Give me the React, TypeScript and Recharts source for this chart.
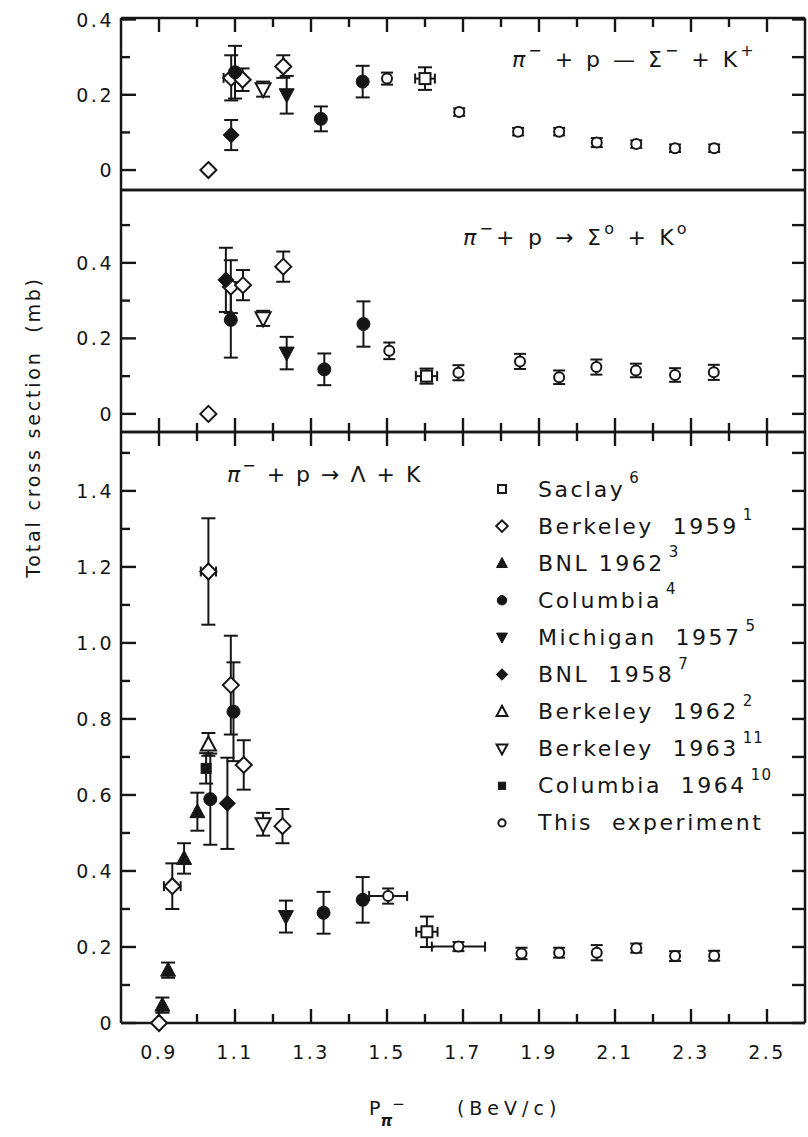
import React from 'react';
import { ScatterChart, Scatter, XAxis, YAxis, ErrorBar, Legend, ReferenceLine } from 'recharts';

// each row: [p (BeV/c), sigma (mb), d sigma, d p]
type Row = number[];

const X_TICKS = [0.9, 1.0, 1.1, 1.2, 1.3, 1.4, 1.5, 1.6, 1.7, 1.8, 1.9, 2.0, 2.1, 2.2, 2.3, 2.4, 2.5];
const TOP_TICKS = [0, 0.1, 0.2, 0.3, 0.4];
const MID_TICKS = [0, 0.1, 0.2, 0.3, 0.4, 0.5];
const LOW_TICKS = [0, 0.1, 0.2, 0.3, 0.4, 0.5, 0.6, 0.7, 0.8, 0.9, 1.0, 1.1, 1.2, 1.3, 1.4, 1.5];

// pi- p -> Sigma- K+
const SM_SACLAY: Row[] = [[1.6, 0.243, 0.03, 0.026]];
const SM_BERK59: Row[] = [[1.03, 0, 0], [1.09, 0.245, 0.06, 0.02], [1.12, 0.24, 0.03], [1.227, 0.275, 0.03]];
const SM_COLUMBIA: Row[] = [[1.1, 0.26, 0.07], [1.326, 0.136, 0.033], [1.436, 0.235, 0.042]];
const SM_MICHIGAN: Row[] = [[1.236, 0.2, 0.05]];
const SM_BNL58: Row[] = [[1.09, 0.093, 0.04]];
const SM_BERK63: Row[] = [[1.174, 0.215, 0.02]];
const SM_OURS: Row[] = [
  [1.5, 0.243, 0.016], [1.69, 0.154, 0.01], [1.845, 0.102, 0.01], [1.953, 0.102, 0.01],
  [2.052, 0.073, 0.012], [2.156, 0.069, 0.01], [2.258, 0.058, 0.01], [2.361, 0.058, 0.01],
];

// pi- p -> Sigma0 K0
const S0_SACLAY: Row[] = [[1.604, 0.1, 0.02, 0.028]];
const S0_BERK59: Row[] = [[1.03, 0, 0], [1.089, 0.337, 0.07], [1.121, 0.341, 0.04], [1.227, 0.39, 0.04]];
const S0_COLUMBIA: Row[] = [[1.089, 0.249, 0.1], [1.335, 0.118, 0.042], [1.438, 0.238, 0.06]];
const S0_MICHIGAN: Row[] = [[1.236, 0.161, 0.043]];
const S0_BNL58: Row[] = [[1.076, 0.355, 0.085]];
const S0_BERK63: Row[] = [[1.174, 0.253, 0.02]];
const S0_OURS: Row[] = [
  [1.506, 0.167, 0.022], [1.688, 0.109, 0.02], [1.85, 0.139, 0.02], [1.953, 0.097, 0.018],
  [2.051, 0.124, 0.02], [2.155, 0.115, 0.018], [2.258, 0.103, 0.018], [2.36, 0.11, 0.02],
];

// pi- p -> Lambda K
const LK_SACLAY: Row[] = [[1.605, 0.24, 0.04, 0.028]];
const LK_BERK59: Row[] = [
  [0.9, 0, 0], [0.935, 0.36, 0.06, 0.022], [1.03, 1.188, 0.14, 0.02],
  [1.089, 0.889, 0.13], [1.123, 0.679, 0.065], [1.225, 0.518, 0.045],
];
const LK_BNL62: Row[] = [[0.909, 0.047, 0.02], [0.924, 0.139, 0.02], [0.966, 0.433, 0.04], [1.001, 0.556, 0.05]];
const LK_COLUMBIA: Row[] = [[1.035, 0.589, 0.12], [1.096, 0.819, 0.13], [1.333, 0.29, 0.055], [1.436, 0.324, 0.06]];
const LK_MICHIGAN: Row[] = [[1.234, 0.28, 0.042]];
const LK_BNL58: Row[] = [[1.08, 0.578, 0.12]];
const LK_BERK62: Row[] = [[1.03, 0.733, 0.03]];
const LK_BERK63: Row[] = [[1.174, 0.523, 0.03]];
const LK_COL64: Row[] = [[1.024, 0.67, 0.04]];
const LK_OURS: Row[] = [
  [1.503, 0.334, 0.02, 0.05], [1.688, 0.201, 0.012, 0.07], [1.854, 0.183, 0.015], [1.953, 0.185, 0.013],
  [2.052, 0.185, 0.02], [2.156, 0.197, 0.012], [2.258, 0.176, 0.013], [2.361, 0.177, 0.013],
];

type Kind = 'sqOpen' | 'diaOpen' | 'triFill' | 'dotFill' | 'triDownFill' | 'diaFill' | 'triOpen' | 'triDownOpen' | 'sqFill' | 'dotOpen';

const SERIES: { key: string; name: string; sup: string; kind: Kind }[] = [
  { key: 'saclay', name: 'Saclay', sup: '6', kind: 'sqOpen' },
  { key: 'berk59', name: 'Berkeley  1959', sup: '1', kind: 'diaOpen' },
  { key: 'bnl62', name: 'BNL 1962', sup: '3', kind: 'triFill' },
  { key: 'columbia', name: 'Columbia', sup: '4', kind: 'dotFill' },
  { key: 'michigan', name: 'Michigan  1957', sup: '5', kind: 'triDownFill' },
  { key: 'bnl58', name: 'BNL  1958', sup: '7', kind: 'diaFill' },
  { key: 'berk62', name: 'Berkeley  1962', sup: '2', kind: 'triOpen' },
  { key: 'berk63', name: 'Berkeley  1963', sup: '11', kind: 'triDownOpen' },
  { key: 'col64', name: 'Columbia  1964', sup: '10', kind: 'sqFill' },
  { key: 'ours', name: 'This  experiment', sup: '', kind: 'dotOpen' },
];

const TOP_ROWS: Record<string, Row[]> = {
  saclay: SM_SACLAY, berk59: SM_BERK59, columbia: SM_COLUMBIA, michigan: SM_MICHIGAN,
  bnl58: SM_BNL58, berk63: SM_BERK63, ours: SM_OURS,
};
const MID_ROWS: Record<string, Row[]> = {
  saclay: S0_SACLAY, berk59: S0_BERK59, columbia: S0_COLUMBIA, michigan: S0_MICHIGAN,
  bnl58: S0_BNL58, berk63: S0_BERK63, ours: S0_OURS,
};
const LOW_ROWS: Record<string, Row[]> = {
  saclay: LK_SACLAY, berk59: LK_BERK59, bnl62: LK_BNL62, columbia: LK_COLUMBIA, michigan: LK_MICHIGAN,
  bnl58: LK_BNL58, berk62: LK_BERK62, berk63: LK_BERK63, col64: LK_COL64, ours: LK_OURS,
};

const INK = '#161616';
const FONT = '"DejaVu Sans", sans-serif';
const W = 808;
const M_LEFT = 120;
const M_RIGHT = 2;
const X_DOMAIN: [number, number] = [0.8, 2.6];
const PLOT_W = W - M_LEFT - M_RIGHT - 2; // both y axes take 1px
const KX = PLOT_W / (X_DOMAIN[1] - X_DOMAIN[0]); // px per BeV/c

const toPoints = (rows: Row[]) => rows.map(([x, y, ey, ex]) => ({ x, y, ey, ex }));

function Marker({ kind, cx, cy, s = 1 }: { kind: Kind; cx: number; cy: number; s?: number }) {
  const open = { fill: '#fff', stroke: INK, strokeWidth: 2 };
  const solid = { fill: INK, stroke: INK, strokeWidth: 1 };
  const poly = (pts: number[][]) => pts.map((p) => `${cx + p[0] * s},${cy + p[1] * s}`).join(' ');
  switch (kind) {
    case 'sqOpen':
      return <rect x={cx - 5.5 * s} y={cy - 5.5 * s} width={11 * s} height={11 * s} {...open} />;
    case 'sqFill':
      return <rect x={cx - 5 * s} y={cy - 5 * s} width={10 * s} height={10 * s} {...solid} />;
    case 'diaOpen':
      return <polygon points={poly([[0, -8], [8, 0], [0, 8], [-8, 0]])} {...open} />;
    case 'diaFill':
      return <polygon points={poly([[0, -8], [8, 0], [0, 8], [-8, 0]])} {...solid} />;
    case 'dotFill':
      return <circle cx={cx} cy={cy} r={6.5 * s} {...solid} />;
    case 'dotOpen':
      return <circle cx={cx} cy={cy} r={5 * s} {...open} />;
    case 'triFill':
      return <polygon points={poly([[0, -8], [7.5, 6], [-7.5, 6]])} {...solid} />;
    case 'triOpen':
      return <polygon points={poly([[0, -8], [7.5, 6], [-7.5, 6]])} {...open} />;
    case 'triDownFill':
      return <polygon points={poly([[-7.5, -6], [7.5, -6], [0, 8]])} {...solid} />;
    case 'triDownOpen':
      return <polygon points={poly([[-7.5, -6], [7.5, -6], [0, 8]])} {...open} />;
  }
  return null;
}

const tenth = (v: number) => Math.round(v * 10);
const yLabel = (v: number) => (tenth(v) === 0 ? '0' : v.toFixed(1));
const yMajor = (v: number) => tenth(v) % 2 === 0;
const xMajor = (v: number) => tenth(v) % 2 === 1;

// tickSize=0 / tickMargin=0 puts (x, y) on the axis line; only labels are drawn here
function LeftTick({ x, y, payload }: any) {
  if (!yMajor(payload.value)) return <g />;
  return (
    <text x={x - 7} y={y} textAnchor="end" dominantBaseline="central" fontSize={19} letterSpacing={2.5} fill={INK} fontFamily={FONT}>
      {yLabel(payload.value)}
    </text>
  );
}

function XTick({ x, y, payload, labels }: any) {
  if (!labels || !xMajor(payload.value)) return <g />;
  return (
    <text x={x} y={y + 29} textAnchor="middle" dominantBaseline="central" fontSize={19} letterSpacing={2.5} fill={INK} fontFamily={FONT}>
      {payload.value.toFixed(1)}
    </text>
  );
}

interface PanelProps {
  rows: Record<string, Row[]>;
  top: number;
  height: number;
  mTop: number;
  mBottom: number;
  domain: [number, number];
  yTicks: number[];
  topTicks: boolean;
  bottomTicks: boolean;
  bottomLabels: boolean;
  children?: React.ReactNode;
}

const frame = { stroke: INK, strokeWidth: 2.5 };
const tickStroke = { stroke: INK, strokeWidth: 2.4, ifOverflow: 'visible' as const, xAxisId: 'b', yAxisId: 'l' };

// axes get 1px of room: recharts skips drawing an axis whose width or height is 0
function Panel(p: PanelProps) {
  const plotH = p.height - p.mTop - p.mBottom - 2;
  const [y0, y1] = p.domain;
  const ky = plotH / (y1 - y0); // px per mb
  const [x0, x1] = X_DOMAIN;

  // inward ticks on all four sides of the frame, length given in px
  const tickSegs: { x: number; y: number }[][] = [];
  p.yTicks.forEach((v) => {
    tickSegs.push([{ x: x0, y: v }, { x: x0 + (yMajor(v) ? 15 : 9) / KX, y: v }]);
    tickSegs.push([{ x: x1 - 13 / KX, y: v }, { x: x1, y: v }]);
  });
  X_TICKS.forEach((u) => {
    const len = (xMajor(u) ? 14 : 9) / ky;
    if (p.bottomTicks) tickSegs.push([{ x: u, y: y0 }, { x: u, y: y0 + len }]);
    if (p.topTicks) tickSegs.push([{ x: u, y: y1 - len }, { x: u, y: y1 }]);
  });

  return (
    <div style={{ position: 'absolute', left: 0, top: p.top }}>
      <ScatterChart width={W} height={p.height} margin={{ top: p.mTop, right: M_RIGHT, bottom: p.mBottom, left: M_LEFT }}>
        <XAxis
          xAxisId="b" type="number" dataKey="x" domain={X_DOMAIN} ticks={X_TICKS} interval={0}
          height={1} tickSize={0} tickMargin={0} tickLine={false} axisLine={frame}
          tick={(t: any) => <XTick {...t} labels={p.bottomLabels} />}
        />
        <XAxis xAxisId="t" orientation="top" type="number" domain={X_DOMAIN} height={1} tickSize={0} tickLine={false} axisLine={frame} tick={false} />
        <YAxis
          yAxisId="l" type="number" dataKey="y" domain={p.domain} ticks={p.yTicks} interval={0}
          width={1} tickSize={0} tickMargin={0} tickLine={false} axisLine={frame}
          tick={(t: any) => <LeftTick {...t} />}
        />
        <YAxis yAxisId="r" orientation="right" type="number" domain={p.domain} width={1} tickSize={0} tickLine={false} axisLine={frame} tick={false} />
        {tickSegs.map((seg, i) => (
          <ReferenceLine key={`tk${i}`} segment={seg} {...tickStroke} />
        ))}
        {SERIES.filter((s) => p.rows[s.key]).map((s) => {
          const rows = p.rows[s.key];
          const hasEx = rows.some((r) => r[3]);
          return (
            <Scatter
              key={s.key}
              name={s.name}
              xAxisId="b"
              yAxisId="l"
              data={toPoints(rows)}
              isAnimationActive={false}
              shape={(q: any) => <Marker kind={s.kind} cx={q.cx} cy={q.cy} />}
            >
              <ErrorBar dataKey="ey" direction="y" width={s.key === 'ours' ? 6 : 7} stroke={INK} strokeWidth={2} isAnimationActive={false} />
              {hasEx && <ErrorBar dataKey="ex" direction="x" width={5} stroke={INK} strokeWidth={2} isAnimationActive={false} />}
            </Scatter>
          );
        })}
        {p.children}
      </ScatterChart>
    </div>
  );
}

function LegendBox() {
  return (
    <svg width={300} height={380} style={{ overflow: 'visible' }}>
      {SERIES.map((s, i) => {
        const cy = 18 + i * 37.1;
        return (
          <g key={s.key}>
            <Marker kind={s.kind} cx={12} cy={cy} s={0.72} />
            <text x={48} y={cy} dominantBaseline="central" fontSize={22} letterSpacing={2.5} fill={INK} fontFamily={FONT} style={{ whiteSpace: 'pre' }}>
              {s.name}
              {s.sup && (
                <tspan dx={4} dy={-11} fontSize={15} letterSpacing={1}>
                  {s.sup}
                </tspan>
              )}
            </text>
          </g>
        );
      })}
    </svg>
  );
}

const titleStyle = { whiteSpace: 'pre' as const };

export default function App() {
  return (
    <div style={{ position: 'absolute', left: 0, top: 0, width: W, height: 1137, background: '#fff', fontFamily: FONT }}>
      <Panel rows={TOP_ROWS} top={0} height={195} mTop={17} mBottom={4} domain={[-0.053, 0.404]} yTicks={TOP_TICKS} topTicks bottomTicks={false} bottomLabels={false}>
        <text x={512} y={67} fontSize={22} letterSpacing={3} fill={INK} fontFamily={FONT} style={titleStyle}>
          <tspan fontStyle="italic">π</tspan>
          <tspan dy={-11} fontSize={16}>−</tspan>
          <tspan dy={11}> + p — Σ</tspan>
          <tspan dy={-11} fontSize={16}>−</tspan>
          <tspan dy={11}> + K</tspan>
          <tspan dy={-11} fontSize={16}>+</tspan>
        </text>
      </Panel>
      <Panel rows={MID_ROWS} top={185} height={252} mTop={4} mBottom={4} domain={[-0.048, 0.593]} yTicks={MID_TICKS} topTicks={false} bottomTicks bottomLabels={false}>
        <text x={463} y={60} fontSize={22} letterSpacing={3.2} fill={INK} fontFamily={FONT} style={titleStyle}>
          <tspan fontStyle="italic">π</tspan>
          <tspan dy={-11} fontSize={16}>−</tspan>
          <tspan dy={11}>+ p → Σ</tspan>
          <tspan dy={-11} fontSize={16}>o</tspan>
          <tspan dy={11}> + K</tspan>
          <tspan dy={-11} fontSize={16}>o</tspan>
        </text>
      </Panel>
      <Panel rows={LOW_ROWS} top={427} height={710} mTop={4} mBottom={113} domain={[0, 1.555]} yTicks={LOW_TICKS} topTicks bottomTicks bottomLabels>
        <text x={227} y={55} fontSize={22} letterSpacing={2} fill={INK} fontFamily={FONT} style={titleStyle}>
          <tspan fontStyle="italic">π</tspan>
          <tspan dy={-11} fontSize={16}>−</tspan>
          <tspan dy={11}> + p → Λ + K</tspan>
        </text>
        <Legend
          layout="vertical"
          align="center"
          verticalAlign="middle"
          wrapperStyle={{ left: 490, top: 44, width: 300 }}
          content={() => <LegendBox />}
        />
        <text x={369} y={688} fontSize={19} fill={INK} fontFamily={FONT} style={titleStyle}>
          P
          <tspan dy={11} fontSize={15} fontStyle="italic" fontWeight="bold">π</tspan>
          <tspan dy={-17} fontSize={15}>−</tspan>
          <tspan dy={6} dx={52} letterSpacing={5}>(BeV/c)</tspan>
        </text>
      </Panel>
      <svg width={70} height={1137} style={{ position: 'absolute', left: 0, top: 0 }}>
        <text transform="translate(33,427) rotate(-90)" textAnchor="middle" dominantBaseline="central" fontSize={19} letterSpacing={2.8} fill={INK} fontFamily={FONT} style={titleStyle}>
          Total cross section  (mb)
        </text>
      </svg>
    </div>
  );
}
